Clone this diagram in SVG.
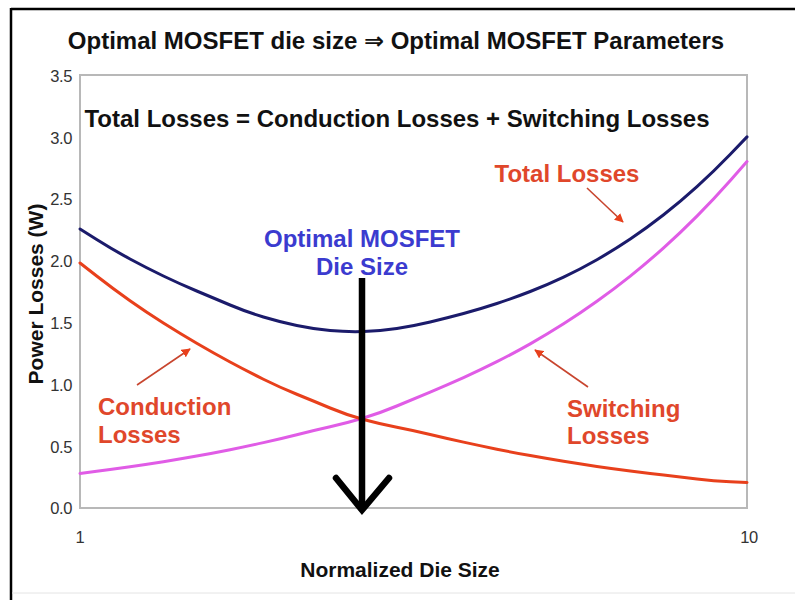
<svg xmlns="http://www.w3.org/2000/svg" width="795" height="600" viewBox="0 0 795 600">
  <style>
    text { font-family: "Liberation Sans", "DejaVu Sans", Arial, sans-serif; }
    .title { font-size: 24px; font-weight: bold; fill: #111; }
    .tick { font-size: 16.5px; fill: #333; letter-spacing: -0.4px; }
    .axis { font-size: 21px; font-weight: bold; fill: #111; }
    .note { font-size: 24px; font-weight: bold; fill: #e0472b; }
    .opt { font-size: 24px; font-weight: bold; fill: #3b3bcf; }
    .curve { fill: none; stroke-width: 3; stroke-linejoin: round; stroke-linecap: round; }
    .pointer { stroke: #c8452e; stroke-width: 1.6; fill: none; marker-end: url(#redhead); }
  </style>
  <defs>
    <marker id="redhead" viewBox="0 0 10 10" refX="9" refY="5" markerWidth="9" markerHeight="9" orient="auto" markerUnits="userSpaceOnUse">
      <path d="M0,0 L10,5 L0,10 Z" fill="#e8401c"/>
    </marker>
  </defs>

  <rect width="795" height="600" fill="#ffffff"/>

  <!-- slide frame -->
  <g id="frame">
    <line x1="11" y1="9" x2="795" y2="9" stroke="#000" stroke-width="2.5"/>
    <line x1="11" y1="8" x2="11" y2="600" stroke="#000" stroke-width="2.5"/>
    <line x1="12" y1="593" x2="795" y2="593" stroke="#e4e4e4" stroke-width="1"/>
  </g>

  <g id="title">
    <text class="title" x="396" y="49" text-anchor="middle">Optimal MOSFET die size ⇒ Optimal MOSFET Parameters</text>
  </g>

  <!-- plot area -->
  <g id="plot-area">
    <rect x="80" y="75" width="667" height="433" fill="#fff" stroke="#b8b8b8" stroke-width="2"/>
  </g>

  <g id="y-ticks">
    <text class="tick" x="72" y="82" text-anchor="end">3.5</text>
    <text class="tick" x="72" y="144" text-anchor="end">3.0</text>
    <text class="tick" x="72" y="205" text-anchor="end">2.5</text>
    <text class="tick" x="72" y="267" text-anchor="end">2.0</text>
    <text class="tick" x="72" y="329" text-anchor="end">1.5</text>
    <text class="tick" x="72" y="391" text-anchor="end">1.0</text>
    <text class="tick" x="72" y="453" text-anchor="end">0.5</text>
    <text class="tick" x="72" y="514" text-anchor="end">0.0</text>
  </g>
  <g id="x-ticks">
    <text class="tick" x="80" y="543" text-anchor="middle">1</text>
    <text class="tick" x="749" y="543" text-anchor="middle">10</text>
  </g>

  <g id="axis-titles">
    <text class="axis" x="400" y="577" text-anchor="middle">Normalized Die Size</text>
    <text class="axis" transform="translate(43,294) rotate(-90)" text-anchor="middle">Power Losses (W)</text>
  </g>

  <g id="equation">
    <text class="title" x="397" y="127" text-anchor="middle">Total Losses = Conduction Losses + Switching Losses</text>
  </g>

  <!-- loss curves on a log-scaled x axis, smoothed through sample midpoints -->
  <g id="curves">
    <path id="switching-curve" class="curve" stroke="#e05ce6"
      d="M80,473.4 L96.68,471.25 Q113.35,469.1 130.03,466.75 Q146.7,464.4 163.38,461.75 Q180.05,459.1 196.73,456.1 Q213.4,453.1 230.08,449.75 Q246.75,446.4 263.43,442.65 Q280.1,438.9 296.78,434.7 Q313.45,430.5 330.13,426.75 Q346.8,423 363.48,418 Q380.15,413 396.83,406 Q413.5,399 430.18,392.05 Q446.85,385.1 463.53,377.6 Q480.2,370.1 496.88,361.7 Q513.55,353.3 530.23,343.85 Q546.9,334.4 563.58,323.8 Q580.25,313.2 596.93,301.3 Q613.6,289.4 630.28,276.1 Q646.95,262.8 663.63,247.85 Q680.3,232.9 696.98,216.1 Q713.65,199.3 730.33,180.45 L747,161.6"/>
    <path id="conduction-curve" class="curve" stroke="#e8401c"
      d="M80,263 L96.68,276 Q113.35,289 130.03,300.75 Q146.7,312.5 163.38,323 Q180.05,333.5 196.73,343.25 Q213.4,353 230.08,362 Q246.75,371 263.43,379.25 Q280.1,387.5 296.78,394.25 Q313.45,401 330.13,408 Q346.8,415 363.48,419.5 Q380.15,424 396.83,427.25 Q413.5,430.5 430.18,434.5 Q446.85,438.5 463.53,442.15 Q480.2,445.8 496.88,449.2 Q513.55,452.6 530.23,455.6 Q546.9,458.6 563.58,461.3 Q580.25,464 596.93,466.4 Q613.6,468.8 630.28,470.95 Q646.95,473.1 663.63,475.05 Q680.3,477 696.98,479 Q713.65,481 730.33,481.75 L747,482.5"/>
    <path id="total-curve" class="curve" stroke="#1b1b6b"
      d="M80,229 L96.68,239.5 Q113.35,250 130.03,259 Q146.7,268 163.38,276 Q180.05,284 196.73,291 Q213.4,298 230.08,305 Q246.75,312 263.43,317 Q280.1,322 296.78,325.5 Q313.45,329 330.13,330.5 Q346.8,332 363.48,331.5 Q380.15,331 396.83,328.5 Q413.5,326 430.18,322 Q446.85,318 463.53,313.5 Q480.2,309 496.88,303.5 Q513.55,298 530.23,291.5 Q546.9,285 563.58,277.1 Q580.25,269.2 596.93,259.7 Q613.6,250.2 630.28,239 Q646.95,227.8 663.63,214.75 Q680.3,201.7 696.98,186.6 Q713.65,171.5 730.33,154.2 L747,136.9"/>
  </g>

  <g id="optimal-label">
    <text class="opt" x="362" y="247" text-anchor="middle">Optimal MOSFET</text>
    <text class="opt" x="362" y="275" text-anchor="middle">Die Size</text>
  </g>

  <!-- big pointer to the optimum -->
  <g id="optimal-arrow" stroke="#000" stroke-width="6.5" fill="none">
    <line x1="362" y1="278" x2="362" y2="508"/>
    <polyline points="336,478 362,510 389,478" stroke-linejoin="miter" stroke-linecap="round"/>
  </g>

  <g id="total-label">
    <text class="note" x="567" y="182" text-anchor="middle">Total Losses</text>
  </g>
  <g id="conduction-label">
    <text class="note" x="98" y="415">Conduction</text>
    <text class="note" x="98" y="443">Losses</text>
  </g>
  <g id="switching-label">
    <text class="note" x="567" y="417">Switching</text>
    <text class="note" x="567" y="444">Losses</text>
  </g>

  <g id="connectors">
    <line class="pointer" x1="587" y1="188" x2="623" y2="222"/>
    <line class="pointer" x1="137" y1="385" x2="190" y2="349"/>
    <line class="pointer" x1="588" y1="387" x2="535" y2="350"/>
  </g>
</svg>
